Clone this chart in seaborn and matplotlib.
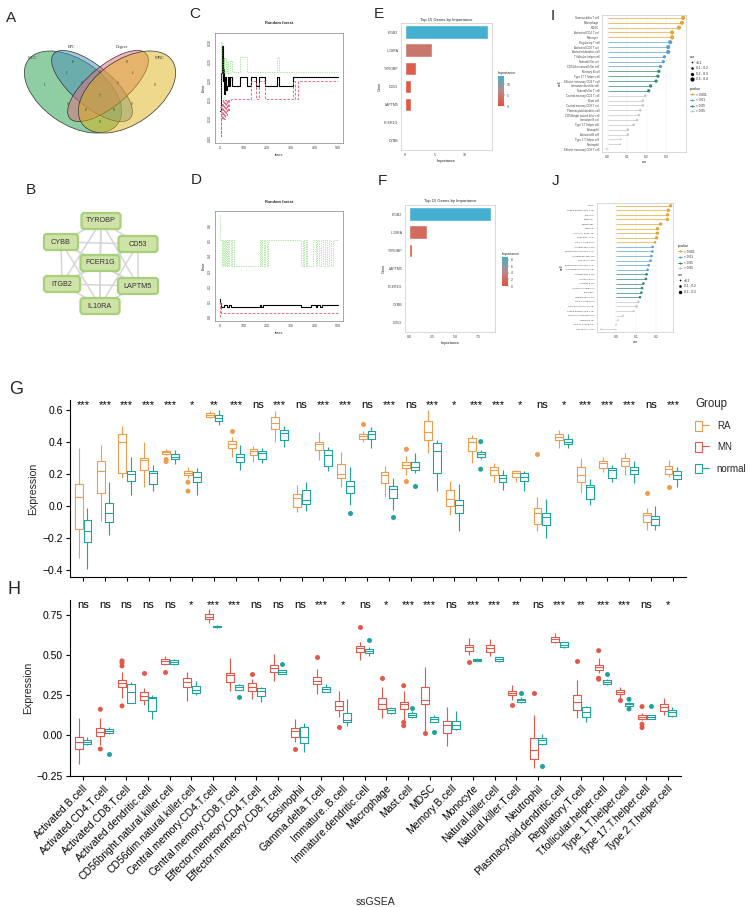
import numpy as np
import pandas as pd
import matplotlib
matplotlib.use("Agg")
import matplotlib.pyplot as plt
import seaborn as sns
from matplotlib.patches import Ellipse, FancyBboxPatch, Patch
from matplotlib.lines import Line2D
from matplotlib.legend_handler import HandlerTuple
from matplotlib.colors import LinearSegmentedColormap, Normalize
import matplotlib.cm as cm

sns.set_theme(style="white")
plt.rcParams['font.family'] = ['Liberation Sans', 'DejaVu Sans']
plt.rcParams['axes.unicode_minus'] = True

# ======================= DATA =======================
# Panel A (Venn)
venn_sets = ["MCC", "EPC", "Degree", "MNC"]
venn_counts = ["1", "0", "0", "0", "1", "0", "1", "0", "2", "7", "0", "0", "0", "0", "0"]

# Panel B (network)
net_genes = ["TYROBP", "CYBB", "CD53", "FCER1G", "ITGB2", "LAPTM5", "IL10RA"]

# Panel C (random forest error, step breakpoints)
C_oob_trees = [1, 5, 9, 12, 15, 18, 21, 25, 29, 33, 38, 43, 50, 85, 116, 130, 152, 166, 190, 240, 251, 311, 500]
C_oob_err = [0.12, 0.22, 0.29, 0.20, 0.23, 0.165, 0.209, 0.175, 0.187, 0.209, 0.187, 0.209, 0.187, 0.209,
             0.187, 0.209, 0.187, 0.209, 0.187, 0.209, 0.187, 0.209, 0.209]
C_c1_trees = [1, 4, 7, 10, 13, 17, 21, 25, 29, 34, 40, 46, 130, 152, 166, 190, 311, 318, 329, 500]
C_c1_err = [0.13, 0.055, 0.14, 0.10, 0.15, 0.10, 0.15, 0.11, 0.15, 0.12, 0.15, 0.151, 0.20, 0.151, 0.20,
            0.151, 0.20, 0.151, 0.20, 0.20]
C_c2_trees = [1, 4, 8, 12, 16, 20, 25, 30, 36, 42, 50, 85, 116, 240, 251, 500]
C_c2_err = [0.13, 0.30, 0.22, 0.26, 0.22, 0.26, 0.22, 0.25, 0.22, 0.25, 0.222, 0.261, 0.222, 0.261, 0.222, 0.222]

# Panel D
D_oob_trees = [1, 3, 6, 17, 30, 38, 48, 60, 169, 176, 183, 194, 343, 386, 404, 412, 425, 432, 445, 500]
D_oob_err = [0.12, 0.09, 0.062, 0.078, 0.062, 0.078, 0.062, 0.062, 0.078, 0.062, 0.078, 0.078, 0.062,
             0.078, 0.062, 0.078, 0.062, 0.078, 0.078, 0.078]
D_c1_trees = [1, 3, 6, 500]
D_c1_err = [0.0, 0.10, 0.028, 0.028]
D_c2_trees = [1, 3, 8, 12, 17, 21, 26, 30, 35, 40, 46, 52, 60, 169, 174, 180, 186, 192, 198, 204, 343, 350,
              356, 362, 368, 393, 405, 412, 420, 428, 436, 445, 452, 460, 468, 476, 500]
D_c2_err = [0.667, 0.5, 0.333, 0.5, 0.333, 0.5, 0.333, 0.5, 0.333, 0.5, 0.333, 0.5, 0.333, 0.5, 0.333, 0.5,
            0.333, 0.5, 0.333, 0.5, 0.333, 0.5, 0.333, 0.5, 0.333, 0.5, 0.333, 0.5, 0.333, 0.5, 0.333, 0.5,
            0.333, 0.5, 0.333, 0.5, 0.5]

# Panel E / F
E_genes = ["ITGB2", "IL10RA", "TYROBP", "CD53", "LAPTM5", "FCER1G", "CYBB"]
E_importance = [13.9, 4.5, 1.75, 0.95, 0.95, 0.0, 0.0]
F_genes = ["ITGB2", "IL10RA", "TYROBP", "LAPTM5", "FCER1G", "CYBB", "CD53"]
F_importance = [8.8, 1.9, 0.35, 0.02, 0.0, 0.0, 0.0]

# Panel I
I_cells = ["Gamma delta T cell", "Macrophage", "MDSC", "Activated CD4 T cell", "Monocyte",
           "Regulatory T cell", "Activated CD8 T cell", "Activated dendritic cell", "T follicular helper cell",
           "Natural killer cell", "CD56dim natural killer cell", "Memory B cell", "Type 17 T helper cell",
           "Effector memeory CD4 T cell", "Immature dendritic cell", "Natural killer T cell",
           "Central memory CD4 T cell", "Mast cell", "Central memory CD8 T cell", "Plasmacytoid dendritic cell",
           "CD56bright natural killer cell", "Immature B cell", "Type 2 T helper cell", "Eosinophil",
           "Activated B cell", "Type 1 T helper cell", "Neutrophil", "Effector memeory CD8 T cell"]
I_cor = [0.386, 0.38, 0.365, 0.33, 0.33, 0.32, 0.31, 0.31, 0.29, 0.285, 0.27, 0.262, 0.257, 0.248, 0.22,
         0.21, 0.193, 0.18, 0.18, 0.167, 0.16, 0.15, 0.133, 0.103, 0.103, 0.067, 0.064, -0.005]
I_pvalue = ["<0.001"] * 5 + ["<0.01"] * 6 + ["<0.05"] * 5 + [">0.05"] * 12

# Panel J
J_cells = ["MDSC", "Central memory CD4 T cell", "Monocyte", "Neutrophil", "Macrophage", "Mast cell",
           "T follicular helper cell", "Regulatory T cell", "Type 1 T helper cell", "Activated CD4 T cell",
           "Effector memeory CD8 T cell", "Activated dendritic cell", "Natural killer cell",
           "Effector memeory CD4 T cell", "CD56bright natural killer cell", "Activated CD8 T cell",
           "Immature B cell", "Activated B cell", "Immature dendritic cell", "Eosinophil", "Gamma delta T cell",
           "Type 2 T helper cell", "CD56dim natural killer cell", "Central memory CD8 T cell",
           "Plasmacytoid dendritic cell", "Memory B cell", "Type 17 T helper cell", "Natural killer T cell"]
J_cor = [0.273, 0.262, 0.258, 0.257, 0.223, 0.208, 0.207, 0.203, 0.195, 0.183, 0.182, 0.177, 0.173, 0.163,
         0.158, 0.153, 0.15, 0.137, 0.13, 0.127, 0.12, 0.112, 0.103, 0.088, 0.035, 0.01, 0.0, -0.075]
J_pvalue = ["<0.001"] * 9 + ["<0.01"] * 6 + ["<0.05"] * 6 + [">0.05"] * 7

# Panels G / H (box stats per cell: [low whisker, Q1, median, Q3, high whisker])
cells = ["Activated.B.cell", "Activated.CD4.T.cell", "Activated.CD8.T.cell", "Activated.dendritic.cell",
         "CD56bright.natural.killer.cell", "CD56dim.natural.killer.cell", "Central.memory.CD4.T.cell",
         "Central.memory.CD8.T.cell", "Effector.memeory.CD4.T.cell", "Effector.memeory.CD8.T.cell",
         "Eosinophil", "Gamma.delta.T.cell", "Immature..B.cell", "Immature.dendritic.cell",
         "Macrophage", "Mast.cell", "MDSC", "Memory.B.cell", "Monocyte", "Natural.killer.cell",
         "Natural.killer.T.cell", "Neutrophil", "Plasmacytoid.dendritic.cell", "Regulatory.T.cell",
         "T.follicular.helper.cell", "Type.1.T.helper.cell", "Type.17.T.helper.cell", "Type.2.T.helper.cell"]
sig_G = ["***", "***", "***", "***", "***", "*", "**", "***", "ns", "***", "ns", "***", "***", "ns",
         "***", "ns", "***", "*", "***", "***", "*", "ns", "*", "***", "***", "***", "ns", "***"]
sig_H = ["ns", "ns", "ns", "ns", "ns", "*", "***", "***", "ns", "ns", "ns", "***", "*", "ns",
         "*", "***", "***", "ns", "***", "***", "**", "ns", "***", "**", "***", "***", "ns", "*"]

G_RA = [[-0.33, -0.144, 0.054, 0.135, 0.36], [-0.094, 0.077, 0.215, 0.283, 0.38],
        [0.173, 0.208, 0.398, 0.45, 0.50], [0.12, 0.227, 0.285, 0.298, 0.398],
        [0.32, 0.325, 0.335, 0.344, 0.356], [0.177, 0.194, 0.208, 0.22, 0.245],
        [0.548, 0.558, 0.569, 0.58, 0.594], [0.308, 0.365, 0.387, 0.406, 0.433],
        [0.273, 0.319, 0.346, 0.356, 0.377], [0.398, 0.48, 0.517, 0.556, 0.594],
        [-0.042, -0.01, 0.048, 0.073, 0.131], [0.287, 0.35, 0.385, 0.402, 0.46],
        [0.115, 0.173, 0.198, 0.26, 0.335], [0.40, 0.42, 0.435, 0.448, 0.47],
        [0.052, 0.142, 0.19, 0.21, 0.252], [0.194, 0.235, 0.256, 0.277, 0.31],
        [0.329, 0.4125, 0.465, 0.531, 0.60], [-0.056, -0.004, 0.044, 0.10, 0.156],
        [0.267, 0.344, 0.398, 0.427, 0.444], [0.146, 0.194, 0.225, 0.24, 0.267],
        [0.152, 0.183, 0.204, 0.215, 0.225], [-0.16, -0.1125, -0.046, -0.015, 0.058],
        [0.365, 0.4125, 0.433, 0.448, 0.475], [0.079, 0.152, 0.194, 0.244, 0.298],
        [0.21, 0.235, 0.267, 0.281, 0.308], [0.194, 0.25, 0.283, 0.298, 0.329],
        [-0.15, -0.102, -0.056, -0.046, -0.015], [0.183, 0.198, 0.231, 0.252, 0.2875]]
G_normal = [[-0.396, -0.227, -0.156, -0.09, -0.015], [-0.18, -0.104, -0.048, 0.017, 0.148],
            [0.065, 0.156, 0.20, 0.219, 0.308], [0.09, 0.135, 0.208, 0.219, 0.256],
            [0.26, 0.29, 0.308, 0.327, 0.35], [0.07, 0.152, 0.181, 0.21, 0.235],
            [0.506, 0.531, 0.552, 0.569, 0.60], [0.225, 0.273, 0.308, 0.325, 0.38],
            [0.267, 0.29, 0.329, 0.344, 0.36], [0.371, 0.415, 0.454, 0.475, 0.50],
            [-0.035, 0.01, 0.0375, 0.10, 0.152], [0.215, 0.252, 0.315, 0.35, 0.371],
            [0.006, 0.083, 0.127, 0.158, 0.24], [0.36, 0.419, 0.45, 0.469, 0.496],
            [-0.025, 0.048, 0.106, 0.121, 0.177], [0.204, 0.225, 0.246, 0.277, 0.329],
            [0.094, 0.204, 0.346, 0.392, 0.4125], [-0.16, -0.046, 0.006, 0.0375, 0.135],
            [0.294, 0.308, 0.323, 0.335, 0.35], [0.10, 0.148, 0.173, 0.194, 0.225],
            [0.094, 0.156, 0.183, 0.204, 0.215], [-0.20, -0.119, -0.073, -0.046, 0.044],
            [0.365, 0.3875, 0.402, 0.417, 0.45], [0.002, 0.042, 0.115, 0.131, 0.169],
            [0.152, 0.177, 0.221, 0.235, 0.256], [0.142, 0.198, 0.225, 0.246, 0.281],
            [-0.15, -0.123, -0.081, -0.067, -0.004], [0.115, 0.169, 0.194, 0.215, 0.24]]
G_RA_out = [(4, 0.29), (4, 0.277), (5, 0.148), (5, 0.092), (7, 0.469), (13, 0.51), (15, 0.354),
            (15, 0.152), (21, 0.323), (26, 0.077), (27, 0.115)]
G_normal_out = [(12, -0.046), (14, -0.073), (15, 0.121), (18, 0.402), (18, 0.229)]

H_MN = [[-0.177, -0.086, -0.038, -0.007, 0.107], [-0.059, -0.001, 0.024, 0.045, 0.107],
        [0.231, 0.304, 0.329, 0.345, 0.393], [0.19, 0.221, 0.246, 0.269, 0.298],
        [0.439, 0.445, 0.464, 0.476, 0.497], [0.217, 0.304, 0.331, 0.356, 0.393],
        [0.698, 0.725, 0.74, 0.754, 0.79], [0.277, 0.335, 0.377, 0.391, 0.484],
        [0.227, 0.279, 0.304, 0.325, 0.35], [0.339, 0.393, 0.422, 0.439, 0.505],
        [-0.038, -0.007, 0.03, 0.045, 0.103], [0.256, 0.318, 0.341, 0.366, 0.412],
        [0.117, 0.159, 0.186, 0.217, 0.277], [0.47, 0.518, 0.543, 0.559, 0.584],
        [0.107, 0.165, 0.196, 0.231, 0.30], [0.096, 0.165, 0.198, 0.21, 0.277],
        [0.03, 0.196, 0.221, 0.304, 0.428], [-0.065, 0.013, 0.065, 0.092, 0.18],
        [0.501, 0.528, 0.549, 0.563, 0.605], [0.497, 0.522, 0.543, 0.563, 0.60],
        [0.221, 0.25, 0.267, 0.279, 0.314], [-0.204, -0.146, -0.088, -0.013, 0.128],
        [0.574, 0.584, 0.60, 0.615, 0.64], [0.107, 0.159, 0.207, 0.252, 0.346],
        [0.387, 0.408, 0.424, 0.439, 0.48], [0.235, 0.256, 0.271, 0.283, 0.304],
        [0.096, 0.10, 0.117, 0.128, 0.14], [0.128, 0.152, 0.18, 0.196, 0.235]]
H_normal = [[-0.059, -0.055, -0.038, -0.028, -0.007], [0.007, 0.014, 0.03, 0.04, 0.055],
            [0.2, 0.2, 0.269, 0.32, 0.331], [0.103, 0.154, 0.231, 0.238, 0.252],
            [0.439, 0.443, 0.455, 0.468, 0.476], [0.252, 0.263, 0.283, 0.308, 0.341],
            [0.671, 0.673, 0.677, 0.684, 0.688], [0.283, 0.283, 0.304, 0.314, 0.32],
            [0.21, 0.248, 0.277, 0.298, 0.304], [0.381, 0.381, 0.393, 0.406, 0.408],
            [-0.10, -0.049, -0.007, 0.055, 0.076], [0.269, 0.273, 0.287, 0.30, 0.318],
            [0.059, 0.082, 0.096, 0.142, 0.227], [0.497, 0.511, 0.526, 0.538, 0.553],
            [0.134, 0.142, 0.159, 0.173, 0.18], [0.111, 0.117, 0.128, 0.138, 0.15],
            [0.082, 0.086, 0.10, 0.113, 0.128], [0.034, 0.04, 0.065, 0.092, 0.152],
            [0.462, 0.464, 0.47, 0.476, 0.48], [0.455, 0.462, 0.476, 0.488, 0.49],
            [0.2, 0.206, 0.219, 0.227, 0.24], [-0.059, -0.055, -0.03, -0.013, 0.007],
            [0.543, 0.551, 0.563, 0.58, 0.584], [0.086, 0.117, 0.148, 0.18, 0.186],
            [0.314, 0.32, 0.331, 0.343, 0.352], [0.173, 0.186, 0.194, 0.2, 0.206],
            [0.1, 0.103, 0.115, 0.128, 0.128], [0.117, 0.123, 0.144, 0.159, 0.18]]
H_MN_out = [(1, 0.163), (1, -0.084), (2, 0.464), (2, 0.453), (2, 0.433), (2, 0.184), (3, 0.387),
            (4, 0.393), (8, 0.381), (10, -0.084), (11, 0.49), (12, 0.055), (13, 0.677), (14, 0.36),
            (15, 0.31), (15, 0.082), (15, 0.061), (16, 0.015), (18, 0.46), (20, 0.19), (21, 0.267),
            (23, 0.464), (24, 0.528), (24, 0.356), (24, 0.35), (25, 0.221), (26, 0.18), (26, 0.07),
            (26, 0.049)]
H_normal_out = [(1, -0.115), (7, 0.242), (9, 0.443), (13, 0.594), (15, 0.169), (16, 0.02), (20, 0.262),
                (21, -0.19), (24, 0.381), (25, 0.225), (25, 0.165), (26, 0.184)]

# ======================= STYLE =======================
c_RA, c_MN, c_normal = "#EE9C4E", "#E2584A", "#1FA39E"
p_colors = {"<0.001": "#E3A534", "<0.01": "#5A9FCF", "<0.05": "#2C8A69", ">0.05": "#C4C4C4"}

W, H = 750, 907
fig = plt.figure(figsize=(7.5, 9.07), dpi=100)


def px(l, t, r, b):
    return [l / W, 1 - b / H, (r - l) / W, (b - t) / H]


def ftxt(x, y, s, **kw):
    fig.text(x / W, 1 - y / H, s, **kw)


def small_style(ax, fs=2.6, spine="#BBBBBB"):
    ax.tick_params(axis="both", labelsize=fs, length=1.2, width=0.3, pad=0.8, colors="#444444")
    for s in ax.spines.values():
        s.set_visible(True)
        s.set_color(spine)
        s.set_linewidth(0.4)


# panel letters
for lab, x, y, fs in [("A", 11, 18, 11), ("B", 31, 190, 11), ("C", 195, 14, 11), ("D", 196, 180, 11),
                      ("E", 379, 14, 11), ("F", 382, 181, 11), ("I", 553, 16, 11), ("J", 556, 181, 11),
                      ("G", 16, 389, 13), ("H", 14, 589, 13)]:
    ftxt(x, y, lab, fontsize=fs, ha="center", va="center")

# ======================= A: Venn =======================
axA = fig.add_axes(px(0, 30, 200, 160))
axA.set_xlim(0, 200)
axA.set_ylim(160, 30)
axA.axis("off")
venn_cols = ["#1E9E47", "#4A8DB8", "#E0687E", "#DDB31A"]
venn_geom = [((73, 92), 110, 64, 35), ((92, 86), 100, 40, 40), ((108, 86), 100, 40, -40),
             ((127, 92), 110, 64, -35)]
for (cxy, w, h, ang), col in zip(venn_geom, venn_cols):
    axA.add_patch(Ellipse(cxy, w, h, angle=ang, facecolor=col, alpha=0.5, edgecolor="none"))
    axA.add_patch(Ellipse(cxy, w, h, angle=ang, facecolor="none", edgecolor="#333333", lw=0.5))
for name, (x, y) in zip(venn_sets, [(33, 58), (72, 47), (122, 47), (160, 58)]):
    axA.text(x, y, name, fontsize=3.2, ha="center", va="center", family="Liberation Serif", color="#333333")
venn_pos = [(45, 85), (73, 62), (127, 62), (155, 85), (67, 73), (100, 72), (133, 73), (82, 83), (118, 83),
            (100, 96), (68, 104), (132, 104), (86, 110), (114, 110), (100, 122)]
for s, (x, y) in zip(venn_counts, venn_pos):
    axA.text(x, y, s, fontsize=2.4, ha="center", va="center", family="Liberation Serif", color="#222222")

# ======================= B: network =======================
axB = fig.add_axes(px(0, 170, 200, 330))
axB.set_xlim(0, 200)
axB.set_ylim(330, 170)
axB.axis("off")
node_xy = [(101, 221), (61, 242), (138, 244), (100, 263), (62, 284), (138, 286), (100, 306)]
node_w = [39, 34, 39, 39, 36, 40, 39]
for i in range(len(net_genes)):
    for j in range(i + 1, len(net_genes)):
        (x1, y1), (x2, y2) = node_xy[i], node_xy[j]
        axB.plot([x1, x2], [y1, y2], color="#D6D6D6", lw=1.1, zorder=1)
for g, (x, y), w in zip(net_genes, node_xy, node_w):
    axB.add_patch(FancyBboxPatch((x - w / 2, y - 8), w, 16, boxstyle="round,pad=0,rounding_size=3",
                                 facecolor="#CFE3A8", edgecolor="#A8D07A", lw=1.6, zorder=2))
    axB.text(x, y, g, fontsize=5.2, ha="center", va="center", color="#333333", zorder=3)


# ======================= C / D: random forest =======================
def rf_panel(rect, oob, c1, c2, ylim, yticks, title_y):
    ax = fig.add_axes(px(*rect))
    sns.lineplot(x=oob[0], y=oob[1], drawstyle="steps-post", color="black", lw=0.8, ax=ax,
                 estimator=None, sort=False)
    sns.lineplot(x=c1[0], y=c1[1], drawstyle="steps-post", color="#DF536B", lw=0.6, ax=ax,
                 estimator=None, sort=False, linestyle=(0, (3, 2)))
    sns.lineplot(x=c2[0], y=c2[1], drawstyle="steps-post", color="#61D04F", lw=0.5, ax=ax,
                 estimator=None, sort=False, linestyle=(0, (1, 1.5)))
    ax.set_xlim(-20, 520)
    ax.set_ylim(*ylim)
    ax.set_xticks([0, 100, 200, 300, 400, 500])
    ax.set_yticks(yticks)
    ax.set_yticklabels([f"{v:.2f}" if ylim[1] < 0.4 else f"{v:.1f}" for v in yticks])
    small_style(ax, fs=2.6, spine="#666666")
    ax.tick_params(axis="y", labelrotation=90)
    for t in ax.get_yticklabels():
        t.set_va("center")
    ax.set_xlabel("trees", fontsize=2.8, labelpad=2)
    ax.set_ylabel("Error", fontsize=2.8, labelpad=2)
    ftxt((rect[0] + rect[2]) / 2, title_y, "Random forest", fontsize=2.9, fontweight="bold",
         ha="center", va="center")
    return ax


rf_panel((215, 33, 343, 143), (C_oob_trees, C_oob_err), (C_c1_trees, C_c1_err), (C_c2_trees, C_c2_err),
         (0.037, 0.324), [0.05, 0.10, 0.15, 0.20, 0.25, 0.30], 23)
rf_panel((215, 211, 343, 321), (D_oob_trees, D_oob_err), (D_c1_trees, D_c1_err), (D_c2_trees, D_c2_err),
         (-0.027, 0.693), [0.0, 0.1, 0.2, 0.3, 0.4, 0.5, 0.6], 202)

# ======================= E / F: importance bars =======================
imp_cmap = LinearSegmentedColormap.from_list("imp", ["#E5513A", "#B98A8A", "#44AFCF"])


def imp_panel(rect, genes, vals, xlim, xticks, xticklabels, cbar_rect, cticks, title_y):
    ax = fig.add_axes(px(*rect))
    norm = Normalize(0, max(vals))
    pal = {g: imp_cmap(norm(v)) for g, v in zip(genes, vals)}
    sns.barplot(x=vals, y=genes, hue=genes, palette=pal, legend=False, orient="h", width=0.75, ax=ax,
                saturation=1)
    ax.set_xlim(*xlim)
    ax.set_xticks(xticks)
    ax.set_xticklabels(xticklabels)
    small_style(ax, fs=2.6)
    ax.set_xlabel("Importance", fontsize=2.8, labelpad=1.5)
    ax.set_ylabel("Gene", fontsize=2.8, labelpad=1.5)
    ftxt((rect[0] + rect[2]) / 2, title_y, "Top 15 Genes by Importance", fontsize=3.0, ha="center",
         va="center")
    cax = fig.add_axes(px(*cbar_rect))
    cb = fig.colorbar(cm.ScalarMappable(norm=norm, cmap=imp_cmap), cax=cax)
    cb.outline.set_visible(False)
    cb.set_ticks(cticks)
    cax.tick_params(labelsize=2.4, length=1, width=0.3, pad=0.8, colors="#444444")
    cax.set_title("Importance", fontsize=2.6, loc="left", pad=1.5)
    return ax


imp_panel((401, 23, 492, 150), E_genes, E_importance, (-0.69, 14.6), [0, 5, 10], ["0", "5", "10"],
          (498, 76, 504, 106), [0, 5, 10], 20)
imp_panel((405, 205, 495, 332), F_genes, F_importance, (-0.44, 9.24), [0, 2.5, 5, 7.5],
          ["0.0", "2.5", "5.0", "7.5"], (502, 257, 508, 286), [0, 2, 4, 6, 8], 201)


# ======================= I / J: lollipop correlations =======================
def lolli_panel(rect, cells_l, cor, pv, xlim, xticks, sizes, size_labels, bins, leg_first, leg_pos,
                ylab_fs):
    ax = fig.add_axes(px(*rect))
    df = pd.DataFrame({"cell": cells_l, "cor": cor, "p": pv})
    df["cbin"] = pd.cut(df["cor"], bins=bins, labels=size_labels).astype(str)
    ax.hlines(df["cell"], 0, df["cor"], colors=[p_colors[p] for p in df["p"]], lw=0.7, alpha=0.7)
    sns.scatterplot(data=df, x="cor", y="cell", hue="p", palette=p_colors, size="cbin",
                    sizes=dict(zip(size_labels, sizes)), legend=False, linewidth=0, ax=ax)
    ax.set_ylim(len(cells_l) - 0.4, -0.6)
    ax.set_xlim(*xlim)
    ax.set_xticks(xticks)
    ax.set_xticklabels([f"{v:.1f}" for v in xticks])
    ax.grid(axis="x", color="#EEEEEE", lw=0.3)
    ax.set_axisbelow(True)
    small_style(ax, fs=2.4)
    ax.tick_params(axis="y", labelsize=ylab_fs)
    ax.set_xlabel("cor", fontsize=2.6, labelpad=1)
    ax.set_ylabel("cell", fontsize=2.6, labelpad=1)
    ph = [Line2D([0], [0], color=p_colors[k], lw=0.6, marker="o", markersize=1.5, markeredgewidth=0)
          for k in p_colors]
    pl = ["< 0.001", "< 0.01", "< 0.05", "> 0.05"]
    sh = [Line2D([0], [0], color="black", lw=0, marker="o", markersize=np.sqrt(s), markeredgewidth=0)
          for s in sizes]
    sl = [lab.replace("-", " - ") for lab in size_labels]
    groups = {"cor": (sh, sl), "pvalue": (ph, pl)}
    legs = []
    for key, (x, y) in zip(leg_first, leg_pos):
        hh, ll = groups[key]
        lg = ax.legend(hh, ll, title=key, loc="upper left", bbox_to_anchor=(x / W, 1 - y / H),
                       bbox_transform=fig.transFigure, frameon=False, fontsize=2.3, title_fontsize=2.7,
                       handlelength=1.4, handletextpad=0.5, labelspacing=0.5, borderpad=0, borderaxespad=0,
                       alignment="left")
        legs.append(lg)
    for lg in legs[:-1]:
        ax.add_artist(lg)
    return ax


lolli_panel((602, 15, 686, 152), I_cells, I_cor, I_pvalue, (-0.029, 0.401), [0.0, 0.1, 0.2, 0.3],
            [1.5, 3.2, 5.5, 9.0], ["<0.1", "0.1-0.2", "0.2-0.3", "0.3-0.4"], [-1, 0.1, 0.2, 0.3, 0.5],
            ["cor", "pvalue"], [(690, 55), (690, 87)], 2.0)
lolli_panel((597, 203, 673, 332), J_cells, J_cor, J_pvalue, (-0.095, 0.285), [0.0, 0.1, 0.2],
            [1.5, 3.5, 6.0], ["<0.1", "0.1-0.2", "0.2-0.3"], [-1, 0.1, 0.2, 0.5],
            ["pvalue", "cor"], [(678, 244), (678, 273)], 1.6)


# ======================= G / H: ssGSEA boxplots =======================
def long_rows(stats, group):
    return [(cells[i], group, v) for i, vals in enumerate(stats) for v in vals]


def out_rows(outs, group):
    return [(cells[i], group, v) for i, v in outs]


def box_panel(rect, stats_a, stats_b, outs_a, outs_b, grp_a, col_a, ylim, yticks, ytl, sig, sig_y):
    ax = fig.add_axes(px(*rect))
    df = pd.DataFrame(long_rows(stats_a, grp_a) + long_rows(stats_b, "normal"),
                      columns=["cell", "group", "value"])
    dfo = pd.DataFrame(out_rows(outs_a, grp_a) + out_rows(outs_b, "normal"),
                       columns=["cell", "group", "value"])
    pal = {grp_a: col_a, "normal": c_normal}
    sns.boxplot(data=df, x="cell", y="value", hue="group", order=cells, hue_order=[grp_a, "normal"],
                palette=pal, fill=False, width=0.8, gap=0.1, whis=(0, 100), showfliers=False,
                linewidth=0.8, showcaps=False, legend=False, ax=ax)
    sns.stripplot(data=dfo, x="cell", y="value", hue="group", order=cells, hue_order=[grp_a, "normal"],
                  palette=pal, dodge=True, jitter=False, size=3.6, linewidth=0, legend=False, ax=ax)
    ax.set_xlim(-0.6, len(cells) - 0.4)
    ax.set_ylim(*ylim)
    ax.set_yticks(yticks)
    ax.set_yticklabels(ytl)
    for i, s in enumerate(sig):
        ax.text(i, sig_y, s, ha="center", va="baseline", fontsize=8, color="black")
    for k in ["top", "right"]:
        ax.spines[k].set_visible(False)
    for k in ["left", "bottom"]:
        ax.spines[k].set_color("black")
        ax.spines[k].set_linewidth(0.8)
    ax.tick_params(axis="both", length=3, width=0.8, color="black", labelsize=7.5, labelcolor="black",
                   bottom=True, left=True, pad=2)
    ax.set_ylabel("Expression", fontsize=7.6, labelpad=3)
    ax.set_xlabel("")
    return ax


axG = box_panel((70, 400, 686, 577), G_RA, G_normal, G_RA_out, G_normal_out, "RA", c_RA,
                (-0.446, 0.6625), [-0.4, -0.2, 0.0, 0.2, 0.4, 0.6], ["−0.4", "−0.2", "0.0", "0.2", "0.4", "0.6"],
                sig_G, 0.614)
axG.set_xticklabels([])

axH = box_panel((70, 600, 681, 776), H_MN, H_normal, H_MN_out, H_normal_out, "MN", c_MN,
                (-0.252, 0.843), [-0.25, 0.0, 0.25, 0.5, 0.75], ["−0.25", "0.00", "0.25", "0.50", "0.75"],
                sig_H, 0.795)
axH.set_xticks(range(len(cells)))
axH.set_xticklabels(cells, rotation=45, ha="right", rotation_mode="anchor", fontsize=7.5)
axH.set_xlabel("ssGSEA", fontsize=7.6, labelpad=10)

# Group legend
handles = [(Patch(facecolor="white", edgecolor=c, lw=0.8), Line2D([], [], color=c, lw=0.8))
           for c in [c_RA, c_MN, c_normal]]
axG.legend(handles, ["RA", "MN", "normal"], title="Group", handler_map={tuple: HandlerTuple(ndivide=None)},
           loc="upper left", bbox_to_anchor=(695 / W, 1 - 398 / H), bbox_transform=fig.transFigure,
           frameon=False, fontsize=7, title_fontsize=8.3, handlelength=1.45, handleheight=1.1,
           labelspacing=1.15, handletextpad=0.8, borderpad=0, borderaxespad=0, alignment="left")

fig.savefig("out.png", dpi=100)
